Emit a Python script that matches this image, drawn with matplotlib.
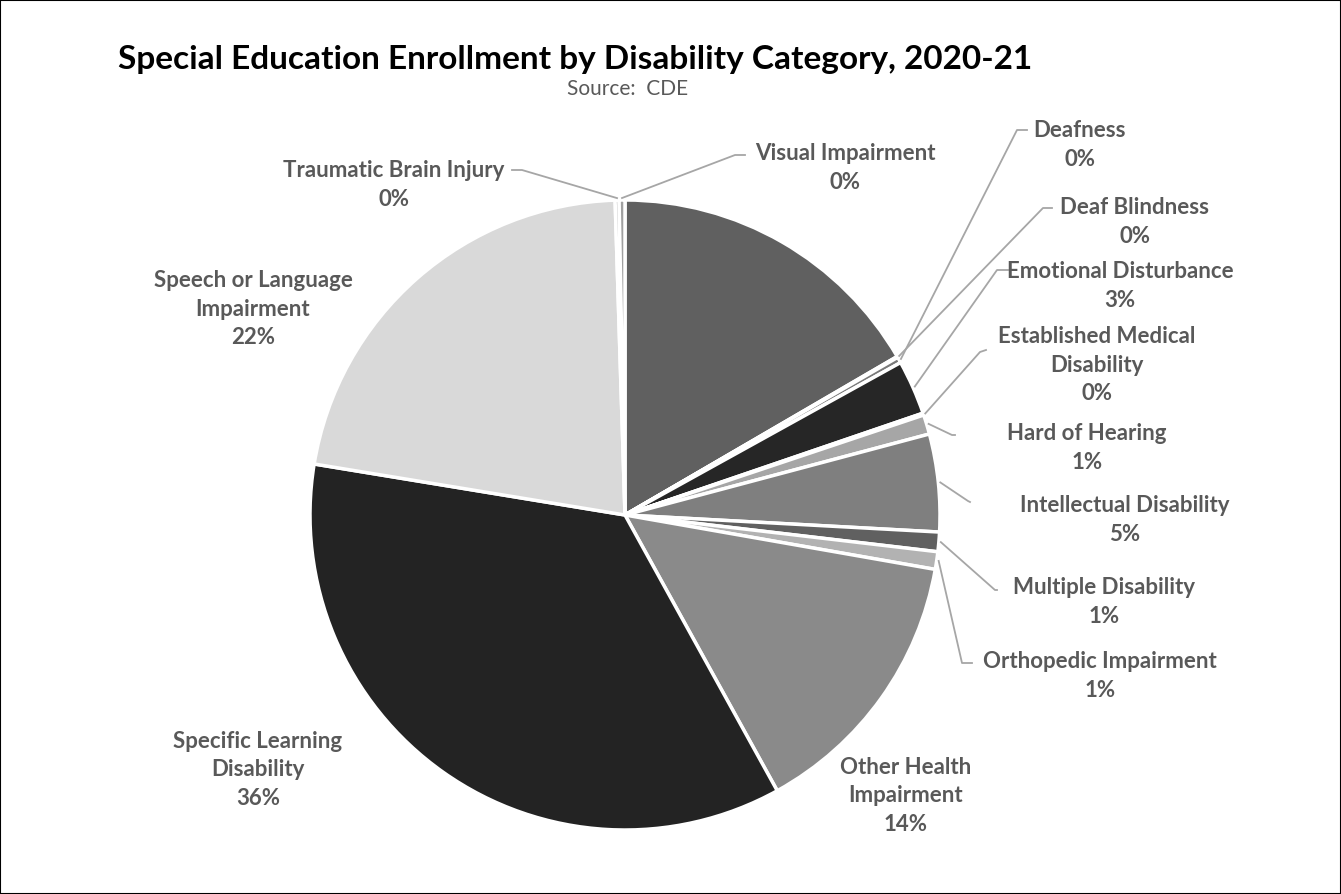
import matplotlib.pyplot as plt
from matplotlib.patches import Rectangle, Wedge
import numpy as np

plt.rcParams['font.family'] = ['Lato', 'DejaVu Sans']

categories = ["Autism", "Deaf Blindness", "Deafness", "Emotional Disturbance",
              "Established Medical Disability", "Hard of Hearing",
              "Intellectual Disability", "Multiple Disability",
              "Orthopedic Impairment", "Other Health Impairment",
              "Specific Learning Disability", "Speech or Language Impairment",
              "Traumatic Brain Injury", "Visual Impairment"]
shares = [16.6, 0.05, 0.3, 2.8, 0.1, 1.0, 5.0, 1.0, 0.9, 14.2, 35.6, 21.9, 0.2, 0.3]
label_text = [None, "Deaf Blindness", "Deafness", "Emotional Disturbance",
              "Established Medical\nDisability", "Hard of Hearing",
              "Intellectual Disability", "Multiple Disability",
              "Orthopedic Impairment", "Other Health\nImpairment",
              "Specific Learning\nDisability", "Speech or Language\nImpairment",
              "Traumatic Brain Injury", "Visual Impairment"]
colors = ["#606060", "#9a9a9a", "#7a7a7a", "#262626", "#8c8c8c", "#a6a6a6",
          "#7f7f7f", "#606060", "#b2b2b2", "#8a8a8a", "#232323", "#d9d9d9",
          "#7f7f7f", "#a0a0a0"]

W, H = 1341, 894
fig = plt.figure(figsize=(W / 100, H / 100), dpi=100)
ax = fig.add_axes([0, 0, 1, 1])
ax.set_xlim(0, W)
ax.set_ylim(H, 0)
ax.set_aspect('equal')
ax.axis('off')

cx, cy, r = 625, 515, 315
total = sum(shares)

# wedges clockwise from 12 o'clock (image coords, y down)
ang = -90.0
mids = []
for v, c in zip(shares, colors):
    span = 360 * v / total
    ax.add_patch(Wedge((cx, cy), r, ang, ang + span, facecolor=c,
                       edgecolor='white', linewidth=2.5))
    mids.append(np.deg2rad(ang + span / 2))
    ang += span

# label centres (image pixels) and leader line points
label_pos = [None, (1135, 222), (1080, 145), (1120, 286), (1097, 365), (1087, 448),
             (1125, 520), (1104, 602), (1100, 676), (906, 796), (258, 770),
             (253, 309), (394, 185), (845, 168)]
elbows = [None, [(1043, 208), (1052, 208)], [(1017, 130), (1027, 130)],
          [(997, 270), (1008, 270)], [(980, 352), (986, 350)], [(952, 435), (955, 435)],
          [(968, 501), (970, 502)], [(995, 590), (997, 590)], [(962, 663), (972, 663)],
          None, None, None, [(522, 170), (512, 170)], [(735, 155), (745, 155)]]

tc = "#595959"
for i, cat in enumerate(categories):
    if label_text[i] is None:
        continue
    pct = round(100 * shares[i] / total)
    lx, ly = label_pos[i]
    ax.text(lx, ly, f"{label_text[i]}\n{pct}%", ha='center', va='center',
            fontsize=16, fontweight='bold', color=tc, linespacing=1.42)
    if elbows[i] is not None:
        a = mids[i]
        sx, sy = cx + (r + 2) * np.cos(a), cy + (r + 2) * np.sin(a)
        xs = [sx] + [p[0] for p in elbows[i]]
        ys = [sy] + [p[1] for p in elbows[i]]
        ax.plot(xs, ys, color="#a6a6a6", linewidth=1.3)

ax.text(118, 60, "Special Education Enrollment by Disability Category, 2020-21",
        ha='left', va='center', fontsize=24, fontweight='bold', color='black')
ax.text(628, 89, "Source:  CDE", ha='center', va='center', fontsize=15, color=tc)

fig.patches.append(Rectangle((0, 0), 1, 1, transform=fig.transFigure, fill=False,
                             edgecolor='black', linewidth=1.5))

fig.savefig("out.png", dpi=100)
